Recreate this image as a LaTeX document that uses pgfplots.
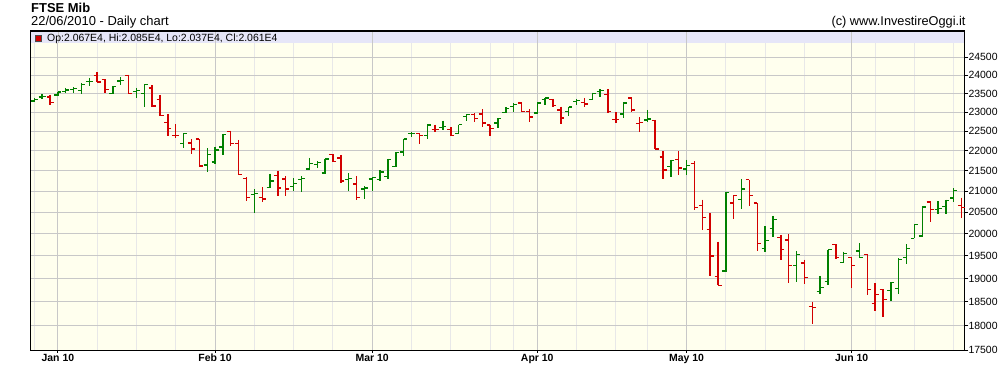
\documentclass[border=0pt]{standalone}
\usepackage{fontspec}
\setmainfont{Liberation Sans}
\usepackage{pgfplots}
\usepackage{pgfplotstable}
\pgfplotsset{compat=1.18}
\definecolor{upg}{RGB}{0,128,0}
\definecolor{dnr}{RGB}{210,0,0}
\definecolor{ivorybg}{RGB}{255,255,238}
\definecolor{bandc}{RGB}{230,230,248}
\definecolor{gmaj}{RGB}{200,200,200}
\definecolor{gmin}{RGB}{232,232,232}
\pgfdeclareplotmark{otick}{\pgfpathmoveto{\pgfpoint{-3.5bp}{0pt}}\pgfpathlineto{\pgfpoint{0pt}{0pt}}\pgfusepathqstroke}
\pgfdeclareplotmark{ctick}{\pgfpathmoveto{\pgfpoint{0pt}{0pt}}\pgfpathlineto{\pgfpoint{3.5bp}{0pt}}\pgfusepathqstroke}

\pgfplotstableread{
x o h l c
0 23300 23380 23260 23330
1 23400 23480 23340 23420
3 23460 23550 23440 23540
4 23560 23650 23510 23590
5 23600 23670 23520 23630
6 23570 23780 23480 23740
7 23820 23920 23690 23830
10 23500 23700 23480 23690
11 23840 23940 23725 23850
13 23545 23650 23390 23570
14 23490 23750 23150 23735
19 22195 22450 22060 22435
22 21645 22070 21485 21915
23 21720 22110 21670 22025
24 22095 22435 21900 22425
28 20925 21055 20475 20955
30 21100 21430 21080 21255
33 21125 21320 21020 21185
34 21280 21365 20995 21305
35 21545 21825 21525 21675
36 21650 21750 21570 21710
37 21445 21800 21430 21795
40 21280 21445 21020 21320
42 21060 21120 20805 21085
43 21300 21345 21020 21345
44 21280 21510 21240 21470
45 21365 21800 21300 21775
46 21600 21970 21595 21960
47 21970 22305 21860 22300
48 22445 22480 22350 22450
50 22385 22660 22300 22660
52 22600 22780 22540 22625
54 22435 22670 22425 22670
55 22885 22945 22780 22930
59 22715 22845 22580 22825
60 23000 23125 22975 23090
61 23150 23240 23000 23195
64 22975 23240 22945 23240
65 23345 23390 23180 23375
68 23015 23135 22910 23135
69 23285 23355 23180 23310
71 23345 23525 23330 23505
72 23550 23615 23400 23570
75 22955 23265 22845 23240
78 22790 23060 22740 22820
81 21610 21775 21345 21750
83 21545 21775 21390 21635
88 19165 20990 19155 20980
90 20800 21305 20585 21055
93 19675 20170 19580 19845
94 20130 20420 19925 20325
97 19295 19615 18935 19540
100 18720 19060 18670 18805
101 18935 19640 18865 19640
103 19360 19600 19355 19560
105 19615 19790 19450 19465
109 18740 18920 18525 18920
110 18790 19450 18665 19415
111 19470 19765 19325 19675
112 19900 20225 19900 20210
113 19955 20640 19925 20625
115 20575 20760 20460 20585
116 20640 20800 20460 20785
117 20840 21080 20735 21020
}\upbars

\pgfplotstableread{
x o h l c
2 23400 23470 23200 23260
8 23980 24080 23810 23810
9 23870 23880 23525 23615
12 23980 24010 23480 23500
15 23645 23725 23130 23160
16 23330 23460 22895 22905
17 22720 22955 22390 22580
18 22390 22685 22340 22385
20 22200 22300 21910 22045
21 22300 22300 21610 21620
25 22495 22520 22135 22190
26 22190 22280 21395 21405
27 21320 21340 20760 20845
29 20850 21100 20735 20820
31 21390 21500 20900 21080
32 21300 21365 20900 21055
38 21900 21925 21720 21735
39 21820 21900 21200 21250
41 21175 21380 20785 20845
49 22435 22450 22180 22385
51 22555 22670 22495 22555
53 22555 22610 22385 22400
56 22930 22975 22730 22835
57 22955 23080 22610 22715
58 22660 22670 22390 22575
62 23240 23265 23000 23020
63 23010 23080 22730 22870
66 23340 23355 23135 23170
67 23060 23150 22695 22845
70 23260 23375 23150 23220
73 23480 23615 22975 23020
74 22815 23000 22715 22815
76 23375 23400 23015 23060
77 22705 22860 22470 22730
79 22780 22800 22045 22045
80 21845 21985 21300 21525
82 21775 21985 21390 21570
84 21675 21735 20545 20615
85 20670 20800 20080 20375
86 20095 20495 19065 19500
87 19045 19825 18855 18855
89 20720 20910 20350 20895
91 21280 21280 20655 20895
92 20720 20720 19620 19790
95 19925 19980 19415 19640
96 19865 20000 18915 19295
98 19340 19415 18885 19030
99 18400 18505 18035 18385
102 19765 19765 19435 19470
104 19470 19470 18805 19295
106 19540 19545 18635 18755
107 18470 18900 18315 18650
108 18770 18770 18190 18555
114 20745 20760 20285 20575
118 20670 20850 20370 20610
}\downbars

\begin{document}
\begin{tikzpicture}
\useasboundingbox (0,0) rectangle (1000bp,386bp);
\begin{axis}[
  at={(30.7bp,35.7bp)}, anchor=south west,
  scale only axis, width=933.6bp, height=319.3bp,
  xmin=-0.46, xmax=118.34,
  ymode=log, ymin=17500, ymax=25251,
  axis background/.style={fill=ivorybg},
  axis line style={line width=1.3bp, black},
  xtick={3,23,43,64,83,104},
  xticklabels={Jan 10,Feb 10,Mar 10,Apr 10,May 10,Jun 10},
  minor xtick={0,8,13,18,28,33,38,48,53,58,61,69,74,78,88,93,98,107,112,117},
  ytick={17500,18000,18500,19000,19500,20000,20500,21000,21500,22000,22500,23000,23500,24000,24500},
  yticklabels={17500,18000,18500,19000,19500,20000,20500,21000,21500,22000,22500,23000,23500,24000,24500},
  xmajorgrids, xminorgrids, ymajorgrids,
  major grid style={draw=gmaj, line width=1.1bp},
  minor grid style={draw=gmin, line width=1.1bp},
  tick align=outside,
  xtick pos=left, ytick pos=right,
  yticklabel pos=right,
  major tick length=4bp, minor tick length=0pt,
  xtick style={/pgfplots/major tick length=2.5bp},
  tick style={black, line width=1bp},
  yticklabel style={font=\fontsize{10.5}{12}\selectfont, anchor=west, inner sep=0pt, xshift=0bp},
  xticklabel style={font=\bfseries\fontsize{10.5}{12}\selectfont, anchor=north, inner sep=0pt},
]
\addplot[draw=none, mark=none, forget plot,
  error bars/.cd, y dir=minus, y explicit, error mark=none,
  error bar style={draw=upg, line width=1.4bp}]
  table[x=x, y=h, y error expr=\thisrow{h}-\thisrow{l}] {\upbars};
\addplot[only marks, mark=otick, mark options={draw=upg, line width=1.3bp}] table[x=x, y=o] {\upbars};
\addplot[only marks, mark=ctick, mark options={draw=upg, line width=1.3bp}] table[x=x, y=c] {\upbars};
\addplot[draw=none, mark=none, forget plot,
  error bars/.cd, y dir=minus, y explicit, error mark=none,
  error bar style={draw=dnr, line width=1.4bp}]
  table[x=x, y=h, y error expr=\thisrow{h}-\thisrow{l}] {\downbars};
\addplot[only marks, mark=otick, mark options={draw=dnr, line width=1.3bp}] table[x=x, y=o] {\downbars};
\addplot[only marks, mark=ctick, mark options={draw=dnr, line width=1.3bp}] table[x=x, y=c] {\downbars};
\end{axis}
\fill[bandc] (31.4bp,343.3bp) rectangle (963.6bp,354.35bp);
\foreach \xx in {58.3,215.3,372.3,537.7,686.3,851.7}
  \draw[gmaj, line width=1.1bp] (\xx bp,343.3bp) -- (\xx bp,354.35bp);
\filldraw[fill=dnr, draw=black!70, line width=0.6bp] (35.5bp,344.5bp) rectangle (41.5bp,351bp);
\node[anchor=base west, inner sep=0pt, font=\fontsize{10.5}{12}\selectfont] at (47bp,344.7bp) {Op:2.067E4, Hi:2.085E4, Lo:2.037E4, Cl:2.061E4};
\node[anchor=base west, inner sep=0pt, font=\bfseries\fontsize{13}{15}\selectfont] at (31bp,373.3bp) {FTSE Mib};
\node[anchor=base west, inner sep=0pt, font=\fontsize{13}{15}\selectfont] at (31bp,360bp) {22/06/2010 - Daily chart};
\node[anchor=base east, inner sep=0pt, font=\fontsize{12.8}{15}\selectfont] at (965.7bp,360bp) {(c) www.InvestireOggi.it};
\end{tikzpicture}
\end{document}
